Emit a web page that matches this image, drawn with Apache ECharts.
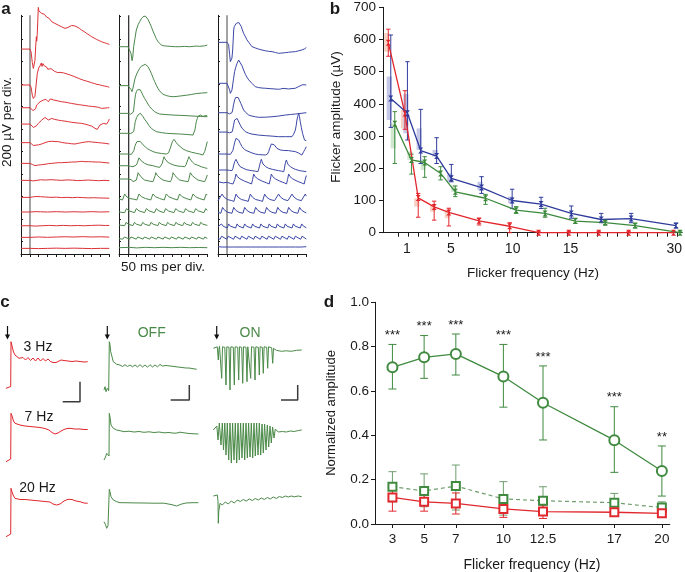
<!DOCTYPE html>
<html><head><meta charset="utf-8">
<script src="https://cdn.jsdelivr.net/npm/echarts@6/dist/echarts.min.js"></script>
<style>html,body{margin:0;padding:0;background:#fff}#c{width:685px;height:572px}</style>
</head><body><div id="c"></div><script>
// ---------------- Panel a : ERG traces (time ms, amplitude µV relative to baseline) ----------------
const aStimMs = [51, 55, 51];
const aRedBase = [1710,1391,1189,1044,879,695,544,393,263,141,38,-60];
const aGreenBase = [1731,1385,1139,962,778,674,556,378,263,147,26,-54];
const aBlueBase = [1770,1406,1145,973,778,636,532,369,260,127,26,-45];
const aScaleTicks = [0,200,400,600,800,1000,1200,1400,1600,1800,2000];
const aTimeTicks = [0,50,100,150,200,250,300,350,400,450,500];

const aRedTraces = [
 [[0,0],[51,0],[57,-25],[64,-120],[70,-172],[75,-175],[79,-100],[83,20],[87,110],[89,70],[92,130],[95,250],[98,370],[101,340],[104,352],[108,330],[111,338],[117,317],[121,322],[126,305],[131,310],[136,298],[140,302],[145,285],[150,290],[155,270],[160,272],[164,255],[169,260],[174,243],[183,235],[192,228],[201,220],[211,213],[220,205],[230,198],[240,192],[249,184],[257,188],[266,192],[277,200],[287,210],[296,213],[306,205],[315,198],[330,185],[343,169],[358,155],[372,139],[386,125],[400,110],[414,98],[428,86],[443,75],[457,65],[471,57],[485,50],[500,41]],
 [[0,0],[51,0],[57,-20],[64,-90],[70,-120],[75,-124],[79,-100],[85,-10],[92,100],[100,150],[108,170],[115,195],[119,165],[124,190],[128,200],[132,170],[136,165],[140,182],[145,160],[151,140],[160,150],[170,145],[180,130],[189,122],[200,118],[208,110],[220,112],[230,105],[240,108],[250,100],[260,98],[270,95],[280,88],[290,80],[300,76],[310,70],[325,60],[340,50],[355,42],[370,35],[385,28],[400,20],[415,14],[430,5],[445,2],[460,-5],[475,-10],[490,-15],[500,-20]],
 [[0,0],[51,0],[60,-5],[68,-25],[75,-36],[82,-10],[89,24],[98,40],[108,53],[117,60],[126,68],[131,55],[136,60],[141,75],[145,83],[150,65],[155,53],[160,70],[166,78],[174,74],[183,70],[192,68],[211,60],[230,53],[249,50],[268,44],[287,38],[306,33],[325,28],[343,24],[362,20],[381,15],[400,12],[419,9],[438,4],[457,-6],[476,-3],[490,0],[500,0]],
 [[0,0],[51,0],[60,-8],[70,-30],[79,-38],[88,-15],[98,6],[108,20],[117,35],[126,50],[136,59],[145,48],[155,36],[164,45],[174,50],[183,44],[192,41],[211,35],[230,30],[249,26],[268,21],[287,16],[306,12],[325,9],[343,6],[362,0],[381,-9],[400,-18],[419,-38],[432,-47],[440,-30],[447,-9],[456,0],[466,6],[476,2],[485,0],[490,15],[495,25],[500,44]],
 [[0,0],[51,0],[60,-10],[70,-25],[79,-30],[98,-20],[117,-12],[136,0],[155,9],[174,12],[192,10],[211,9],[230,2],[249,-3],[268,-6],[287,-10],[306,-12],[325,-6],[343,0],[362,5],[381,9],[400,6],[419,3],[438,0],[457,-3],[476,-6],[500,-12]],
 [[0,0],[51,0],[65,-10],[79,-20],[98,-15],[117,-12],[136,-8],[155,-3],[174,0],[192,3],[211,6],[230,6],[249,8],[268,9],[287,12],[306,12],[325,15],[343,18],[362,15],[381,15],[400,14],[419,12],[438,12],[457,10],[476,6],[500,3]],
 [[0,0],[51,0],[70,-5],[90,0],[110,5],[140,3],[170,6],[200,3],[230,0],[260,4],[290,2],[320,-2],[350,0],[380,3],[410,0],[440,-3],[470,0],[500,-2]],
 [[0,0],[51,0],[70,5],[90,8],[110,6],[140,3],[170,0],[200,2],[230,-2],[260,0],[290,-3],[320,0],[350,-2],[380,-5],[410,-3],[440,-5],[470,-6],[500,-8]],
 [[0,0],[51,0],[80,3],[110,2],[150,0],[200,3],[250,0],[300,2],[350,0],[400,3],[450,0],[500,2]],
 [[0,0],[51,0],[80,-3],[120,0],[160,3],[200,0],[240,3],[280,0],[320,2],[360,0],[400,3],[440,5],[480,2],[500,3]],
 [[0,0],[51,0],[100,3],[150,0],[200,3],[250,5],[300,3],[350,6],[400,3],[450,5],[500,2]],
 [[0,0],[51,0],[100,-2],[150,0],[200,2],[250,0],[300,2],[350,0],[400,-2],[450,0],[500,0]]
];

const aGreenTraces = [
 [[0,0],[51,0],[60,-10],[68,-60],[74,-124],[78,-90],[83,0],[90,70],[98,148],[108,195],[117,222],[126,248],[136,266],[149,272],[157,262],[164,243],[174,210],[183,178],[192,140],[202,104],[211,72],[221,44],[230,28],[240,15],[254,8],[268,6],[290,3],[320,0],[343,0],[370,3],[400,0],[420,3],[438,6],[455,3],[466,0],[485,8],[500,15]],
 [[0,0],[51,0],[60,-10],[68,-35],[74,-53],[78,-30],[83,6],[90,60],[98,95],[108,130],[117,154],[126,172],[136,184],[149,190],[157,182],[164,169],[174,140],[183,110],[192,72],[202,36],[211,5],[221,-25],[230,-48],[240,-65],[249,-76],[268,-88],[287,-95],[306,-98],[330,-95],[355,-90],[381,-85],[410,-78],[438,-70],[466,-66],[500,-62]],
 [[0,0],[51,0],[65,-8],[74,-15],[80,10],[83,30],[89,118],[94,170],[98,192],[105,210],[113,222],[120,210],[126,192],[136,160],[145,133],[155,108],[164,82],[174,59],[188,35],[202,15],[216,3],[230,-6],[260,-10],[306,-15],[350,-18],[380,-20],[419,-24],[460,-27],[500,-30]],
 [[0,0],[51,0],[65,-3],[74,-6],[83,15],[88,60],[92,104],[100,140],[108,163],[115,172],[121,178],[128,165],[136,148],[145,125],[155,104],[169,70],[183,44],[197,28],[211,15],[240,6],[268,0],[300,-3],[343,-6],[380,-10],[419,-15],[425,-10],[430,30],[434,70],[438,104],[443,130],[447,148],[453,158],[460,163],[466,158],[475,150],[480,158],[485,163],[492,158],[500,154]],
 [[0,0],[51,0],[70,-3],[79,0],[84,30],[89,65],[95,90],[102,110],[108,120],[113,124],[120,112],[126,100],[136,82],[145,65],[160,48],[174,36],[192,22],[211,12],[240,5],[268,0],[280,10],[287,36],[294,70],[302,110],[311,130],[318,115],[325,100],[334,82],[343,65],[362,45],[381,30],[410,16],[438,6],[457,0],[475,-9],[485,21],[492,60],[500,110]],
 [[0,0],[51,0],[65,-5],[79,-9],[90,0],[98,6],[104,25],[109,50],[113,70],[117,80],[121,62],[126,44],[136,30],[145,21],[165,8],[192,0],[211,-8],[230,-15],[240,-5],[245,21],[250,55],[255,80],[260,62],[264,50],[275,32],[287,21],[310,6],[334,-3],[355,-6],[372,-9],[380,10],[385,27],[390,55],[396,80],[401,62],[406,50],[416,32],[428,15],[447,3],[466,-9],[485,-18],[500,-24]],
 [[0,0],[51,0],[60,6],[70,-6],[79,-24],[90,-15],[98,-9],[103,20],[108,56],[113,42],[117,36],[130,10],[145,-9],[170,-18],[192,-24],[198,0],[202,6],[205,30],[208,56],[213,40],[217,33],[230,12],[249,-9],[270,-18],[291,-24],[297,-5],[300,6],[303,30],[306,56],[311,40],[317,30],[330,10],[343,-9],[370,-18],[391,-24],[395,-5],[398,12],[401,35],[404,56],[409,40],[415,30],[430,10],[447,-9],[470,-18],[485,-24],[492,0],[500,36]],
 [[0,0],[20,-8],[32,45],[45,18],[60,5],[80,0],[101,-8],[113,45],[128,20],[150,5],[180,-8],[192,45],[207,20],[230,5],[256,-8],[268,45],[283,20],[305,5],[331,-8],[343,45],[358,20],[380,5],[407,-8],[419,45],[434,20],[455,5],[482,-8],[494,45],[500,35]],
 [[0,0],[32,-6],[42,30],[57,10],[88,-6],[98,30],[113,10],[145,-6],[155,30],[170,10],[201,-6],[211,30],[226,10],[254,-6],[264,30],[279,10],[311,-6],[321,30],[336,10],[367,-6],[377,30],[392,10],[424,-6],[434,30],[449,10],[481,-6],[491,30],[500,15]],
 [[0,0],[32,-5],[40,24],[52,8],[79,-5],[87,24],[99,8],[126,-5],[134,24],[146,8],[173,-5],[181,24],[193,8],[220,-5],[228,24],[240,8],[267,-5],[275,24],[287,8],[314,-5],[322,24],[334,8],[361,-5],[369,24],[381,8],[408,-5],[416,24],[428,8],[455,-5],[463,24],[475,8],[500,-3]],
 [[0,0],[22,-4],[30,15],[40,5],[60,-4],[68,15],[78,5],[98,-4],[106,15],[116,5],[136,-4],[144,15],[154,5],[174,-4],[182,15],[192,5],[212,-4],[220,15],[230,5],[250,-4],[258,15],[268,5],[288,-4],[296,15],[306,5],[326,-4],[334,15],[344,5],[364,-4],[372,15],[382,5],[402,-4],[410,15],[420,5],[440,-4],[448,15],[458,5],[478,-4],[486,15],[496,5],[500,2]],
 [[0,0],[60,3],[100,-2],[150,3],[200,0],[250,3],[300,0],[350,3],[400,0],[450,2],[500,0]]
];

const aBlueTraces = [
 [[0,0],[51,0],[60,-20],[66,-110],[70,-172],[75,-186],[79,-140],[83,-68],[86,20],[89,110],[92,140],[94,154],[96,130],[98,124],[101,150],[104,169],[108,160],[113,169],[118,176],[123,184],[128,165],[132,139],[138,110],[145,80],[155,50],[164,22],[174,0],[183,-15],[192,-38],[211,-50],[230,-60],[249,-68],[268,-75],[287,-80],[306,-83],[325,-90],[343,-98],[362,-95],[381,-92],[400,-88],[419,-85],[438,-83],[457,-75],[475,-68],[490,-58],[500,-47]],
 [[0,0],[51,0],[60,-15],[66,-60],[70,-89],[75,-104],[79,-60],[83,-15],[88,40],[94,104],[100,140],[108,178],[113,195],[117,207],[121,200],[126,192],[136,155],[145,118],[155,80],[164,55],[174,30],[192,0],[211,-30],[230,-38],[249,-42],[268,-44],[300,-48],[343,-53],[355,-50],[362,-36],[368,-45],[372,-53],[400,-50],[438,-44],[455,-30],[466,-15],[480,-12],[500,-15]],
 [[0,0],[51,0],[65,-10],[74,-21],[79,0],[83,24],[88,70],[94,112],[100,135],[108,148],[114,135],[121,112],[130,80],[138,50],[145,24],[155,5],[164,-8],[174,-21],[192,-30],[211,-36],[230,-41],[268,-40],[306,-36],[343,-30],[381,-21],[410,-16],[438,-12],[470,-6],[500,0]],
 [[0,0],[51,0],[65,-6],[74,-12],[79,0],[83,18],[88,60],[94,107],[100,115],[108,121],[115,100],[126,62],[136,35],[145,18],[155,3],[174,-10],[192,-18],[230,-27],[270,-32],[306,-36],[343,-41],[381,-41],[419,-41],[428,-20],[438,18],[443,60],[447,107],[452,140],[457,166],[461,140],[466,92],[472,40],[479,-12],[485,-45],[490,-71],[500,-77]],
 [[0,0],[51,0],[70,-3],[79,0],[84,30],[89,65],[95,105],[102,139],[108,154],[113,138],[117,124],[126,95],[136,65],[150,40],[164,28],[174,21],[192,10],[211,0],[230,-5],[268,-9],[280,0],[287,21],[295,60],[302,89],[311,100],[318,82],[325,65],[334,50],[343,40],[353,36],[370,32],[400,30],[420,25],[438,21],[455,10],[475,-9],[485,21],[492,40],[500,65]],
 [[0,0],[51,0],[65,-3],[79,-6],[85,15],[89,44],[95,75],[102,95],[107,78],[113,59],[125,30],[136,15],[160,3],[192,-6],[211,-10],[226,-15],[231,10],[236,44],[241,75],[245,95],[250,72],[255,53],[270,30],[287,15],[310,5],[343,-6],[360,-10],[372,-15],[376,10],[379,44],[383,70],[387,89],[392,68],[396,50],[410,30],[425,15],[438,6],[460,-5],[480,-10],[500,-15]],
 [[0,0],[30,-10],[51,-5],[70,-15],[85,-20],[95,20],[102,68],[110,45],[125,25],[150,5],[175,-10],[190,-20],[196,20],[202,68],[210,45],[225,25],[250,5],[275,-10],[290,-20],[296,20],[302,68],[310,45],[325,25],[350,5],[375,-10],[388,-20],[394,20],[400,68],[408,45],[423,25],[448,5],[472,-10],[488,-20],[494,20],[500,55]],
 [[0,-5],[11,-12],[23,53],[35,25],[53,5],[78,-5],[90,-12],[102,53],[114,25],[132,5],[158,-5],[171,-12],[183,53],[195,25],[213,5],[240,-5],[252,-12],[264,53],[276,25],[294,5],[320,-5],[331,-12],[343,53],[355,25],[373,5],[396,-5],[407,-12],[419,53],[431,25],[449,5],[472,-5],[482,-12],[494,53],[500,35]],
 [[0,0],[16,-8],[26,44],[38,18],[56,0],[79,-8],[89,44],[101,18],[119,0],[141,-8],[151,44],[163,18],[181,0],[203,-8],[213,44],[225,18],[243,0],[265,-8],[275,44],[287,18],[305,0],[328,-8],[338,44],[350,18],[368,0],[390,-8],[400,44],[412,18],[430,0],[452,-8],[462,44],[474,18],[492,0],[500,-5]],
 [[0,5],[11,-6],[19,30],[29,10],[52,-6],[60,30],[70,10],[100,-6],[108,30],[118,10],[143,-6],[151,30],[161,10],[188,-6],[196,30],[206,10],[235,-6],[243,30],[253,10],[282,-6],[290,30],[300,10],[328,-6],[336,30],[346,10],[373,-6],[381,30],[391,10],[419,-6],[427,30],[437,10],[466,-6],[474,30],[484,10],[500,-4]],
 [[0,3],[12,-5],[20,22],[30,6],[50,-5],[58,22],[68,6],[88,-5],[96,22],[106,6],[126,-5],[134,22],[144,6],[164,-5],[172,22],[182,6],[202,-5],[210,22],[220,6],[240,-5],[248,22],[258,6],[278,-5],[286,22],[296,6],[316,-5],[324,22],[334,6],[354,-5],[362,22],[372,6],[392,-5],[400,22],[410,6],[430,-5],[438,22],[448,6],[468,-5],[476,22],[486,6],[500,-3]],
 [[0,0],[23,-3],[30,12],[55,-3],[62,12],[87,-3],[94,12],[119,-3],[126,12],[151,-3],[158,12],[183,-3],[190,12],[215,-3],[222,12],[247,-3],[254,12],[279,-3],[286,12],[311,-3],[318,12],[343,-3],[350,12],[375,-3],[382,12],[407,-3],[414,12],[439,-3],[446,12],[471,-3],[478,12],[500,0]]
];

// ---------------- Panel b : flicker amplitude (µV) ----------------
const bXLabels = ['1','5','10','15','30'];
const bXLabelPos = [2.4, 6.8, 13, 18.8, 29.2];
const bXPos = [0.53,2.2,3.53,5.13,6.6,9.63,12.7,15.6,18.63,21.63,24.63,29.13];
const bRed = [590,370,108,80,63,37,20,0,0,0,0,0];
const bRedLo = [548,321,48,39,21,24,0,0,0,0,0,0];
const bRedHi = [632,441,122,98,76,45,31,3,3,3,3,3];
const bRedBoxLo = [562,324,81,65,45,null,null,null,null,null,null,null];
const bRedBoxHi = [620,381,107,86,70,null,null,null,null,null,null,null];
const bBlue = [417,371,255,238,169,140,100,89,60,41,44,22];
const bBlueLo = [327,288,215,215,158,122,75,75,45,31,31,15];
const bBlueHi = [614,531,383,295,212,174,135,110,83,60,60,29];
const bBlueBoxLo = [350,309,257,236,158,132,91,null,null,null,null,null];
const bBlueBoxHi = [485,431,324,257,184,158,112,null,null,null,null,null];
const bGreen = [338,226,218,184,127,107,70,60,36,31,22,0];
const bGreenLo = [215,182,172,164,112,88,60,48,29,25,15,0];
const bGreenHi = [376,244,236,205,145,119,81,76,45,36,28,5];
const bGreenBoxLo = [262,226,195,null,127,null,null,null,null,null,null,null];
const bGreenBoxHi = [340,252,226,null,148,null,null,null,null,null,null,null];

// ---------------- Panel c : responses (t in s, current in pA relative to start) ----------------
const cRedBase = [1617, 883, 133];
const cOffBase = [1600, 900, 283];
const cOnBase = [2017, 1200, 540];
const cRed = [
 [[0,0],[0.2,8],[0.47,18],[0.5,466],[0.57,453],[0.65,403],[0.75,363],[0.9,333],[1.1,313],[1.3,300],[1.5,283],[1.7,308],[1.95,283],[2.2,308],[2.45,278],[2.7,303],[2.95,273],[3.2,303],[3.45,273],[3.7,298],[3.95,273],[4.2,293],[4.45,268],[4.7,258],[5.0,258],[5.2,273],[5.5,283],[5.8,278],[6.2,273],[6.6,268],[7.0,273],[7.4,268],[7.8,263],[8.17,266]],
 [[0,0],[0.2,17],[0.47,27],[0.5,484],[0.6,457],[0.75,407],[0.9,384],[1.4,367],[1.9,357],[2.4,352],[2.9,347],[3.4,342],[3.9,332],[4.3,317],[4.6,292],[4.9,277],[5.2,287],[5.5,307],[5.8,322],[6.1,332],[6.4,334],[6.9,327],[7.4,327],[7.8,322],[8.17,322]],
 [[0,0],[0.2,17],[0.47,27],[0.5,484],[0.6,447],[0.75,407],[0.9,384],[1.4,372],[1.9,372],[2.4,367],[2.9,362],[3.4,357],[3.9,352],[4.4,347],[4.7,327],[5.07,317],[5.4,327],[5.8,357],[6.2,374],[6.6,372],[7.0,357],[7.4,350],[7.8,337],[8.17,334]]
];
const cOff = [
 [[0,0],[0.1,33],[0.2,-17],[0.33,17],[0.47,-7],[0.53,483],[0.6,453],[0.67,383],[0.93,283],[1.27,257],[1.6,250],[1.85,235],[2.1,253],[2.35,235],[2.6,250],[2.85,232],[3.1,250],[3.35,232],[3.6,253],[3.85,230],[4.1,250],[4.35,228],[4.6,253],[4.85,230],[5.1,250],[5.35,232],[5.6,255],[5.85,240],[6.2,245],[6.6,240],[7.0,235],[7.4,230],[7.8,225],[8.2,220],[8.5,220],[8.8,215],[9.27,207]],
 [[0,0],[0.15,30],[0.27,67],[0.4,50],[0.5,40],[0.53,467],[0.6,430],[0.7,350],[0.93,317],[1.27,300],[1.6,293],[2,283],[2.5,288],[3,280],[3.5,285],[4,277],[4.5,282],[5,275],[5.5,280],[6,272],[6.5,275],[7,268],[7.3,270],[7.6,278],[8,272],[8.5,265],[9,262],[9.43,260]],
 [[0,0],[0.15,-30],[0.27,-66],[0.4,-40],[0.5,-20],[0.53,324],[0.6,300],[0.7,250],[0.93,217],[1.27,200],[1.6,190],[2,190],[3,188],[4,187],[5,185],[6,185],[6.8,170],[7.27,157],[7.7,175],[8.2,187],[8.8,190],[9.43,190]]
];
const cOn = [
 [[0,0],[0.2,5],[0.4,15],[0.47,30],[0.5,-117],[0.55,-20],[0.62,20],[0.75,10],[0.84,-300],[0.92,15],[1.15,10],[1.27,-367],[1.35,15],[1.57,10],[1.67,-417],[1.75,15],[2.0,10],[2.1,-367],[2.18,15],[2.44,10],[2.54,-317],[2.62,15],[2.84,10],[2.94,-350],[3.02,15],[3.27,10],[3.37,-334],[3.45,15],[3.64,10],[3.74,-300],[3.82,15],[4.07,10],[4.17,-317],[4.25,15],[4.5,10],[4.6,-267],[4.68,15],[4.9,10],[5.0,-250],[5.08,15],[5.34,10],[5.44,-200],[5.52,15],[5.84,5],[5.94,-150],[6.02,0],[6.3,-20],[6.8,-30],[7.3,-25],[7.8,-30],[8.3,-20],[8.84,-17]],
 [[0,0],[0.2,10],[0.35,40],[0.47,-100],[0.6,70],[0.77,-150],[0.9,70],[1.02,-200],[1.15,70],[1.27,-250],[1.4,70],[1.54,-300],[1.67,70],[1.8,-330],[1.93,70],[2.07,-300],[2.2,70],[2.34,-330],[2.47,70],[2.6,-300],[2.73,70],[2.87,-280],[3.0,70],[3.14,-300],[3.27,70],[3.4,-280],[3.53,70],[3.67,-270],[3.8,70],[3.94,-280],[4.07,70],[4.2,-260],[4.33,70],[4.47,-250],[4.6,70],[4.74,-250],[4.87,60],[5.0,-230],[5.13,60],[5.27,-200],[5.4,50],[5.54,-170],[5.67,40],[5.8,-130],[5.93,30],[6.07,-80],[6.2,10],[6.5,-20],[6.9,-15],[7.3,-20],[7.7,-10],[8.1,-15],[8.5,-5],[8.84,0]],
 [[0,0],[0.2,5],[0.4,10],[0.47,-50],[0.5,-273],[0.55,-150],[0.67,-73],[0.9,-90],[1.2,-60],[1.5,-80],[1.8,-50],[2.1,-70],[2.4,-40],[2.7,-55],[3.0,-35],[3.3,-50],[3.6,-30],[3.9,-45],[4.2,-25],[4.5,-40],[4.8,-20],[5.1,-35],[5.4,-15],[5.7,-30],[6.0,-10],[6.3,-25],[6.6,-5],[6.9,-15],[7.2,0],[7.5,-10],[7.8,0],[8.1,-8],[8.5,0],[8.84,-7]]
];
const cRowLabels = ['3 Hz','7 Hz','20 Hz'];
const cColLabels = ['OFF','ON'];
// scale bars: [corner x (s), corner y (pA), length s, length pA]
const cScaleBars = [[7.4,1483,1.73,200],[8.53,1500,1.86,150],[8.44,1500,1.67,150]];

// ---------------- Panel d : normalized amplitude ----------------
const dFreq = [3,5,7,10,12.5,17,20];
const dOn = [0.707,0.752,0.767,0.665,0.547,0.378,0.239];
const dOnLo = [0.609,0.657,0.672,0.527,0.379,0.233,0.126];
const dOnHi = [0.81,0.85,0.857,0.81,0.713,0.529,0.352];
const dOff = [0.168,0.149,0.171,0.113,0.105,0.096,0.074];
const dOffLo = [0.10,0.078,0.063,0.04,0.04,0.063,0.056];
const dOffHi = [0.236,0.226,0.266,0.191,0.168,0.138,0.10];
const dRed = [0.12,0.10,0.093,0.068,0.056,0.053,0.048];
const dRedLo = [0.058,0.058,0.045,0.03,0.025,0.035,0.04];
const dRedHi = [0.18,0.14,0.14,0.10,0.085,0.07,0.055];
const dStars = ['***','***','***','***','***','***','**'];

// ---------------- styling ----------------
const FONT = "'Liberation Sans', Arial, sans-serif";
const C = {
  aRed:'#dc3237', aGreen:'#4b874b', aBlue:'#3c47a6',
  bRed:'#e2262c', bBlue:'#2f3c9c', bGreen:'#3d8a3d',
  bRedBox:'#f7d2c4', bBlueBox:'#c6c8e8', bGreenBox:'#d2e7cf',
  cRed:'#e0262c', cGreen:'#4a8a48',
  dGreen:'#3f8a3f', dDash:'#6e9e6e', dRed:'#e0282e', ink:'#1a1a1a'
};
const bShift = {red:0, blue:0.25, green:0.65};

const chart = echarts.init(document.getElementById('c'), null, {renderer:'canvas'});

const grids = [
  {left:21, top:15.3, width:88.3, height:238.7},
  {left:119, top:15.3, width:88.3, height:238.7},
  {left:218, top:15.3, width:88.3, height:238.7},
  {left:383, top:7.3, width:300, height:225.4},
  {left:6, top:300, width:100, height:250},
  {left:104, top:300, width:100, height:250},
  {left:213.3, top:300, width:100, height:250},
  {left:375, top:302.3, width:294.8, height:221.7}
];

const xAxes = [], yAxes = [];
for (let i = 0; i < 3; i++) {
  xAxes.push({gridIndex:i, type:'value', min:0, max:500,
    axisLine:{show:true, onZero:false, lineStyle:{color:C.ink, width:1}},
    axisTick:{show:true, length:3, customValues:aTimeTicks, lineStyle:{color:C.ink}},
    axisLabel:{show:false}, splitLine:{show:false}});
  yAxes.push({gridIndex:i, type:'value', min:-110, max:2010,
    axisLine:{show:true, onZero:false, lineStyle:{color:C.ink, width:1}},
    axisTick:{show:true, inside:true, length:2, customValues:aScaleTicks, lineStyle:{color:C.ink}},
    axisLabel:{show:false}, splitLine:{show:false}});
}
const bTicks = [];
for (let v = 1.5; v < 30; v += 1) bTicks.push(v);
xAxes.push({gridIndex:3, type:'value', min:0, max:30,
  axisLine:{show:true, onZero:false, lineStyle:{color:C.ink}},
  axisTick:{show:true, length:4, customValues:bTicks, lineStyle:{color:C.ink}},
  axisLabel:{customValues:bXLabelPos, formatter:(v)=>{const k=bXLabelPos.indexOf(v);return k>=0?bXLabels[k]:'';},
    fontSize:14, fontFamily:FONT, color:C.ink, margin:9},
  splitLine:{show:false}});
yAxes.push({gridIndex:3, type:'value', min:0, max:700, interval:100,
  axisLine:{show:true, onZero:false, lineStyle:{color:C.ink}},
  axisTick:{show:true, length:4, lineStyle:{color:C.ink}},
  axisLabel:{fontSize:13.5, fontFamily:FONT, color:C.ink, margin:7},
  splitLine:{show:false}});
for (let i = 4; i < 7; i++) {
  xAxes.push({gridIndex:i, type:'value', min:0, max:10, show:false});
  yAxes.push({gridIndex:i, type:'value', min:0, max:2500, show:false});
}
xAxes.push({gridIndex:7, type:'value', min:1.9, max:20.5,
  axisLine:{show:true, onZero:false, lineStyle:{color:C.ink}},
  axisTick:{show:true, length:4, customValues:dFreq, lineStyle:{color:C.ink}},
  axisLabel:{customValues:dFreq, formatter:(v)=>String(v), fontSize:13.5, fontFamily:FONT, color:C.ink, margin:8},
  splitLine:{show:false}});
yAxes.push({gridIndex:7, type:'value', min:0, max:1, interval:0.2,
  axisLine:{show:true, onZero:false, lineStyle:{color:C.ink}},
  axisTick:{show:true, length:4, lineStyle:{color:C.ink}},
  axisLabel:{formatter:(v)=>v.toFixed(1), fontSize:13.5, fontFamily:FONT, color:C.ink, margin:6},
  splitLine:{show:false}});

const series = [];
function lineS(ax, data, color, width, extra) {
  return Object.assign({type:'line', xAxisIndex:ax, yAxisIndex:ax, data, symbol:'none', showSymbol:false,
    clip:false, silent:true, animation:false, lineStyle:{color, width}}, extra || {});
}
// panel a
const aCols = [[aRedTraces,aRedBase,C.aRed,'#8c8c8c',1.6],[aGreenTraces,aGreenBase,C.aGreen,'#111',1.1],[aBlueTraces,aBlueBase,C.aBlue,'#8c8c8c',1.6]];
aCols.forEach((col, i) => {
  series.push(lineS(i, [[aStimMs[i],-110],[aStimMs[i],2010]], col[3], col[4]));
  col[0].forEach((tr, k) => series.push(lineS(i, tr.map(p => [p[0], col[1][k] + p[1]]), col[2], 1)));
});
// panel c
const cCols = [[cRed,cRedBase,C.cRed],[cOff,cOffBase,C.cGreen],[cOn,cOnBase,C.cGreen]];
cCols.forEach((col, j) => {
  const ax = 4 + j;
  col[0].forEach((tr, k) => series.push(lineS(ax, tr.map(p => [p[0], col[1][k] + p[1]]), col[2], 1)));
  const sb = cScaleBars[j];
  series.push(lineS(ax, [[sb[0]-sb[2], sb[1]], [sb[0], sb[1]], [sb[0], sb[1]+sb[3]]], '#3a3a3a', 1.5));
});
// error bar & box renderers
function errItem(capHalf, color, lw) {
  return function (params, api) {
    const x = api.value(0), lo = api.value(1), hi = api.value(2);
    const a = api.coord([x, hi]), b = api.coord([x, lo]);
    const st = {stroke:color, lineWidth:lw};
    return {type:'group', children:[
      {type:'line', shape:{x1:a[0], y1:a[1], x2:b[0], y2:b[1]}, style:st},
      {type:'line', shape:{x1:a[0]-capHalf, y1:a[1], x2:a[0]+capHalf, y2:a[1]}, style:st},
      {type:'line', shape:{x1:b[0]-capHalf, y1:b[1], x2:b[0]+capHalf, y2:b[1]}, style:st}]};
  };
}
function boxItem(halfW, color) {
  return function (params, api) {
    const x = api.value(0), lo = api.value(1), hi = api.value(2);
    const a = api.coord([x, hi]), b = api.coord([x, lo]);
    return {type:'rect', shape:{x:a[0]-halfW, y:a[1], width:2*halfW, height:b[1]-a[1]}, style:{fill:color}};
  };
}
function customS(ax, data, render, z) {
  return {type:'custom', xAxisIndex:ax, yAxisIndex:ax, coordinateSystem:'cartesian2d', data,
    encode:{x:0, y:[1,2]}, renderItem:render, silent:true, animation:false, clip:false, z:z};
}
// panel b
const bSets = [
  [bRed,bRedLo,bRedHi,bRedBoxLo,bRedBoxHi,C.bRed,C.bRedBox,bShift.red],
  [bGreen,bGreenLo,bGreenHi,bGreenBoxLo,bGreenBoxHi,C.bGreen,C.bGreenBox,bShift.green],
  [bBlue,bBlueLo,bBlueHi,bBlueBoxLo,bBlueBoxHi,C.bBlue,C.bBlueBox,bShift.blue]
];
const hourglass = 'path://M0,0L10,0L5,5L10,10L0,10L5,5Z';
bSets.forEach(s => {
  const boxes = [];
  bXPos.forEach((x, i) => { if (s[3][i] !== null) boxes.push([x + s[7] - 0.15, s[3][i], s[4][i]]); });
  series.push(customS(3, boxes, boxItem(2.6, s[6]), 1));
});
bSets.forEach(s => {
  series.push(customS(3, bXPos.map((x, i) => [x + s[7], s[1][i], s[2][i]]), errItem(2.2, s[5], 1), 3));
  series.push(lineS(3, bXPos.map((x, i) => [x + s[7], s[0][i]]), s[5], 1.3,
    {symbol:hourglass, showSymbol:true, symbolSize:[5,6], itemStyle:{color:s[5]}, z:4}));
});
// panel d
series.push(customS(7, dFreq.map((f,i)=>[f, dOffLo[i], dOffHi[i]]), errItem(4, C.dDash, 1), 3));
series.push(customS(7, dFreq.map((f,i)=>[f, dRedLo[i], dRedHi[i]]), errItem(4, C.dRed, 1), 3));
series.push(customS(7, dFreq.map((f,i)=>[f, dOnLo[i], dOnHi[i]]), errItem(4, C.dGreen, 1), 3));
series.push(lineS(7, dFreq.map((f,i)=>[f, dOff[i]]), C.dDash, 1.2,
  {symbol:'emptyRect', showSymbol:true, symbolSize:8, itemStyle:{color:C.dGreen, borderWidth:1}, lineStyle:{color:C.dDash, width:1.2, type:[4,3]}, z:4}));
series.push(lineS(7, dFreq.map((f,i)=>[f, dRed[i]]), C.dRed, 1.3,
  {symbol:'emptyRect', showSymbol:true, symbolSize:8, itemStyle:{color:C.dRed, borderWidth:1}, z:4}));
series.push(lineS(7, dFreq.map((f,i)=>[f, dOn[i]]), C.dGreen, 1.3,
  {symbol:'emptyCircle', showSymbol:true, symbolSize:10, itemStyle:{color:C.dGreen, borderWidth:1}, z:4}));
series.push({type:'custom', xAxisIndex:7, yAxisIndex:7, coordinateSystem:'cartesian2d',
  data:dFreq.map((f,i)=>[f, dOnHi[i]]), encode:{x:0, y:1}, silent:true, animation:false, clip:false,
  renderItem:function(params, api){
    const p = api.coord([api.value(0), api.value(1)]);
    return {type:'text', x:p[0], y:p[1]-9, style:{text:dStars[params.dataIndex], font:'13px '+FONT, fill:C.ink, align:'center', verticalAlign:'middle'}};
  }});

// ---------------- texts ----------------
function txt(x, y, text, font, fill, rot) {
  return {type:'text', x, y, rotation:rot||0, silent:true,
    style:{text, font, fill:fill||C.ink, align:'center', verticalAlign:'middle'}};
}
function arrow(x, y1, y2) {
  return {type:'group', silent:true, children:[
    {type:'line', shape:{x1:x, y1:y1, x2:x, y2:y2-3}, style:{stroke:'#111', lineWidth:1.2}},
    {type:'polygon', shape:{points:[[x-2.6,y2-4.5],[x+2.6,y2-4.5],[x,y2+0.5]]}, style:{fill:'#111'}}]};
}
const graphics = [
  txt(6, 9, 'a', 'bold 17px '+FONT),
  txt(335, 9, 'b', 'bold 17px '+FONT),
  txt(5, 302, 'c', 'bold 17px '+FONT),
  txt(329, 302, 'd', 'bold 17px '+FONT),
  txt(7, 122, '200 µV per div.', '13.5px '+FONT, C.ink, Math.PI/2),
  txt(163, 267, '50 ms per div.', '13.5px '+FONT),
  txt(336, 117, 'Flicker amplitude (µV)', '13.5px '+FONT, C.ink, Math.PI/2),
  txt(533, 273, 'Flicker frequency (Hz)', '13.5px '+FONT),
  txt(331, 413, 'Normalized amplitude', '13px '+FONT, C.ink, Math.PI/2),
  txt(532, 565, 'Flicker frequency (Hz)', '14px '+FONT),
  txt(38, 347, cRowLabels[0], '14px '+FONT),
  txt(39, 417, cRowLabels[1], '14px '+FONT),
  txt(37.5, 488, cRowLabels[2], '14px '+FONT),
  txt(151.7, 333, cColLabels[0], '14px '+FONT, C.cGreen),
  txt(250, 333, cColLabels[1], '14px '+FONT, C.cGreen),
  arrow(7.5, 326, 339), arrow(107.3, 326, 339), arrow(216.7, 326, 339)
];

chart.setOption({
  animation:false, backgroundColor:'#fff',
  grid:grids, xAxis:xAxes, yAxis:yAxes, series, graphic:graphics
});
</script></body></html>
